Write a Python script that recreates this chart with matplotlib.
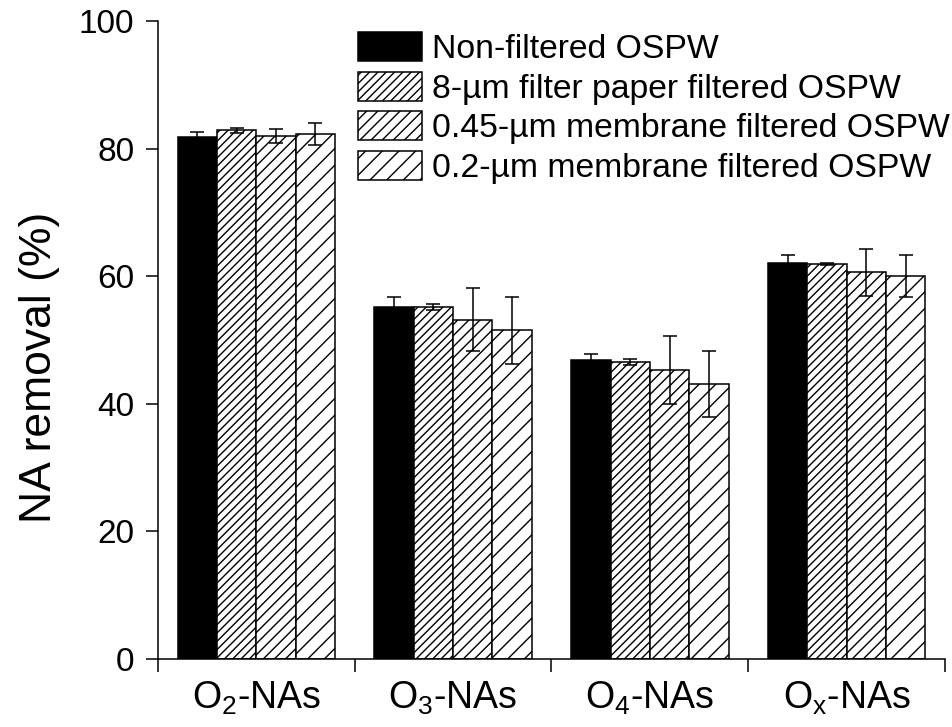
import matplotlib
matplotlib.use("Agg")
import matplotlib.pyplot as plt
import numpy as np

# ---- data -------------------------------------------------------------
categories = [r"O$_2$-NAs", r"O$_3$-NAs", r"O$_4$-NAs", r"O$_\mathrm{x}$-NAs"]
series_names = [
    "Non-filtered OSPW",
    "8-\u00b5m filter paper filtered OSPW",
    "0.45-\u00b5m membrane filtered OSPW",
    "0.2-\u00b5m membrane filtered OSPW",
]
non_filtered = [81.8, 55.1, 46.8, 62.1]
non_filtered_err = [0.8, 1.6, 1.0, 1.2]
filter_8um = [82.9, 55.2, 46.6, 61.9]
filter_8um_err = [0.4, 0.5, 0.45, 0.1]
membrane_045 = [82.0, 53.2, 45.3, 60.6]
membrane_045_err = [1.1, 5.0, 5.3, 3.7]
membrane_02 = [82.3, 51.5, 43.1, 60.1]
membrane_02_err = [1.7, 5.2, 5.1, 3.3]
y_ticks = [0, 20, 40, 60, 80, 100]

# ---- style ------------------------------------------------------------
plt.rcParams["font.family"] = ["Liberation Sans", "DejaVu Sans"]
plt.rcParams["mathtext.fontset"] = "custom"
plt.rcParams["mathtext.rm"] = "Liberation Sans"
plt.rcParams["mathtext.it"] = "Liberation Sans:italic"
plt.rcParams["hatch.linewidth"] = 1.0
plt.rcParams["hatch.color"] = "black"

fig = plt.figure(figsize=(9.53, 7.27), dpi=100)
ax = fig.add_axes([158 / 953, 1 - 659 / 727, (945 - 158) / 953, (659 - 21) / 727])

values = [non_filtered, filter_8um, membrane_045, membrane_02]
errors = [non_filtered_err, filter_8um_err, membrane_045_err, membrane_02_err]
faces = ["black", "white", "white", "white"]
hatches = [None, "////", "///", "//"]

n_groups = len(categories)
bar_w = 0.2
centers = np.arange(n_groups) + 0.5
for k, (vals, errs) in enumerate(zip(values, errors)):
    x = centers + (k - 1.5) * bar_w
    ax.bar(x, vals, width=bar_w, color=faces[k], edgecolor="black",
           linewidth=1.1, hatch=hatches[k], label=series_names[k], zorder=2)
    ax.errorbar(x, vals, yerr=errs, fmt="none", ecolor="black",
                elinewidth=1.1, capsize=4.7, capthick=1.1, zorder=3)

ax.set_xlim(0, n_groups)
ax.set_ylim(0, 100)
ax.set_yticks(y_ticks)
ax.set_xticks(np.arange(n_groups + 1))
ax.set_xticklabels([])
ax.set_xticks(centers, minor=True)
ax.set_xticklabels(categories, minor=True, fontsize=27)
ax.tick_params(axis="x", which="minor", length=0, pad=15)
ax.tick_params(axis="x", which="major", direction="out", length=9, width=1.1)
ax.tick_params(axis="y", direction="out", length=9, width=1.1, labelsize=24, pad=8)

for side in ("top", "right"):
    ax.spines[side].set_visible(False)
for side in ("left", "bottom"):
    ax.spines[side].set_linewidth(1.1)

ax.set_ylabel("NA removal (%)", fontsize=32)
ax.yaxis.set_label_coords((60 - 158) / 787, (659 - 367) / 638)

leg = ax.legend(loc="upper left", bbox_to_anchor=(358 / 953, 1 - 32 / 727),
                bbox_transform=fig.transFigure, frameon=False, fontsize=24.3,
                handlelength=1.9, handleheight=0.95, handletextpad=0.3,
                labelspacing=0.19, borderpad=0, borderaxespad=0)

fig.savefig("out.png", dpi=100)
